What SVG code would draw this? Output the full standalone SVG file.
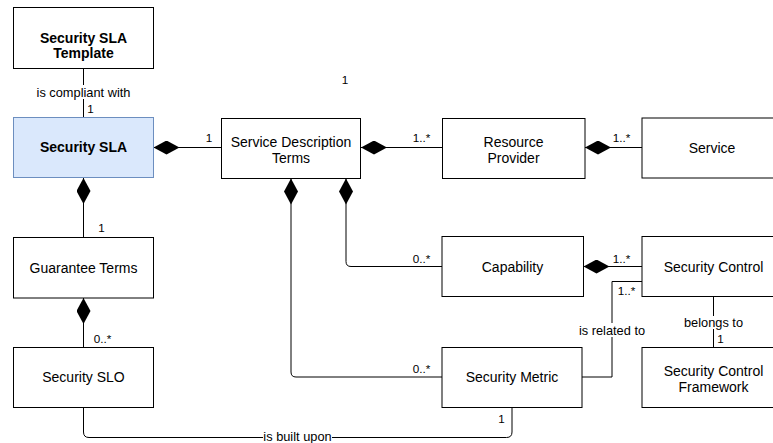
<svg xmlns="http://www.w3.org/2000/svg" width="773" height="443" viewBox="0 0 773 443">
  <style>
    .box { fill: #ffffff; stroke: #000000; stroke-width: 1; }
    .box-blue { fill: #dae8fc; stroke: #6c8ebf; stroke-width: 1; }
    .name { font-family: "Liberation Sans", Arial, Helvetica, sans-serif; font-size: 14px; fill: #000; text-anchor: middle; }
    .bold { font-weight: bold; }
    .edge { fill: none; stroke: #000000; stroke-width: 1; }
    .lbl { font-family: "Liberation Sans", Arial, Helvetica, sans-serif; font-size: 12.8px; fill: #000; text-anchor: middle; }
    .mult { font-family: "Liberation Sans", Arial, Helvetica, sans-serif; font-size: 11.7px; fill: #000; text-anchor: middle; }
    .lblbg { fill: #ffffff; }
  </style>
  <defs>
    <!-- filled composition diamond, tip sits at the start of the path -->
    <marker id="diamond" viewBox="0 0 26 14" refX="0" refY="7" markerWidth="26" markerHeight="14" markerUnits="userSpaceOnUse" orient="auto">
      <path d="M0 7 L13 0 L26 7 L13 14 Z" fill="#000" stroke="none"/>
    </marker>
  </defs>

  <rect width="773" height="443" fill="#ffffff"/>

  <!-- connectors -->
  <g id="connectors">
    <!-- Template - SLA -->
    <path class="edge" d="M83.5 68 V117.5"/>
    <rect class="lblbg" x="34" y="85" width="99" height="14"/>
    <text class="lbl" x="83.5" y="96.5">is compliant with</text>
    <text class="mult" x="90.5" y="112.5">1</text>

    <!-- SLA - Service Description Terms -->
    <path class="edge" d="M153.5 147.5 H221.5" marker-start="url(#diamond)"/>
    <text class="mult" x="209" y="141.5">1</text>

    <!-- Service Description Terms - Resource Provider -->
    <path class="edge" d="M361 147.5 H442.5" marker-start="url(#diamond)"/>
    <text class="mult" x="421.5" y="142">1..*</text>

    <!-- Resource Provider - Service -->
    <path class="edge" d="M585 147.5 H642" marker-start="url(#diamond)"/>
    <text class="mult" x="621.5" y="142">1..*</text>

    <!-- SLA - Guarantee Terms -->
    <path class="edge" d="M83.5 178 V237.5" marker-start="url(#diamond)"/>
    <text class="mult" x="101.5" y="231.5">1</text>

    <!-- Guarantee Terms - Security SLO -->
    <path class="edge" d="M83.5 298 V347.5" marker-start="url(#diamond)"/>
    <text class="mult" x="102.5" y="343">0..*</text>

    <!-- Service Description Terms - Capability -->
    <path class="edge" d="M346 178.5 V261.5 Q346 266.5 351 266.5 H442" marker-start="url(#diamond)"/>
    <text class="mult" x="421.5" y="263">0..*</text>

    <!-- Service Description Terms - Security Metric -->
    <path class="edge" d="M291 178.5 V372 Q291 377 296 377 H442" marker-start="url(#diamond)"/>
    <text class="mult" x="421.5" y="373">0..*</text>

    <!-- Capability - Security Control -->
    <path class="edge" d="M583.5 266.5 H642" marker-start="url(#diamond)"/>
    <text class="mult" x="621.5" y="263">1..*</text>

    <!-- Security Metric - Security Control -->
    <path class="edge" d="M582 377 H612 V281.5 H642"/>
    <rect class="lblbg" x="577" y="323" width="70" height="14"/>
    <text class="lbl" x="612" y="335">is related to</text>
    <text class="mult" x="626.5" y="295">1..*</text>

    <!-- Security Control - Framework -->
    <path class="edge" d="M713.5 296 V347"/>
    <rect class="lblbg" x="681" y="316" width="65" height="13"/>
    <text class="lbl" x="713.5" y="327">belongs to</text>
    <text class="mult" x="720.5" y="343">1</text>

    <!-- Security SLO - Security Metric -->
    <path class="edge" d="M83.5 407.5 V432 Q83.5 437.5 89 437.5 H506.5 Q512 437.5 512 432 V407.5"/>
    <rect class="lblbg" x="263" y="430" width="69" height="13"/>
    <text class="lbl" x="297.5" y="440.5">is built upon</text>
    <text class="mult" x="501.5" y="423">1</text>

    <!-- stray multiplicity -->
    <text class="mult" x="345" y="84">1</text>
  </g>

  <!-- nodes -->
  <g id="security-sla-template">
    <rect class="box" x="13.5" y="7.5" width="140" height="61"/>
    <text class="name bold" x="83.5" y="42.5">Security SLA</text>
    <text class="name bold" x="83.5" y="58">Template</text>
  </g>
  <g id="security-sla">
    <rect class="box-blue" x="13.5" y="117.5" width="140" height="60"/>
    <text class="name bold" x="83.5" y="152">Security SLA</text>
  </g>
  <g id="service-description-terms">
    <rect class="box" x="221.5" y="118.5" width="139" height="60"/>
    <text class="name" x="291" y="146.7">Service Description</text>
    <text class="name" x="291" y="162.7">Terms</text>
  </g>
  <g id="resource-provider">
    <rect class="box" x="442.5" y="118.5" width="142.5" height="60"/>
    <text class="name" x="513.5" y="146.7">Resource</text>
    <text class="name" x="513.5" y="162.7">Provider</text>
  </g>
  <g id="service">
    <rect class="box" x="642" y="118" width="142" height="60"/>
    <text class="name" x="712" y="152.7">Service</text>
  </g>
  <g id="guarantee-terms">
    <rect class="box" x="13.5" y="237.5" width="140" height="60.5"/>
    <text class="name" x="83.5" y="273">Guarantee Terms</text>
  </g>
  <g id="security-slo">
    <rect class="box" x="13.5" y="347.5" width="140" height="60"/>
    <text class="name" x="83.5" y="382">Security SLO</text>
  </g>
  <g id="capability">
    <rect class="box" x="442" y="236.5" width="141.5" height="60"/>
    <text class="name" x="512.5" y="271.5">Capability</text>
  </g>
  <g id="security-control">
    <rect class="box" x="642" y="236.5" width="142" height="60"/>
    <text class="name" x="713.5" y="271.5">Security Control</text>
  </g>
  <g id="security-metric">
    <rect class="box" x="442" y="347.5" width="140" height="60"/>
    <text class="name" x="512" y="381.5">Security Metric</text>
  </g>
  <g id="security-control-framework">
    <rect class="box" x="642" y="347.5" width="142" height="60"/>
    <text class="name" x="713.5" y="375.7">Security Control</text>
    <text class="name" x="713.5" y="391.5">Framework</text>
  </g>
</svg>
